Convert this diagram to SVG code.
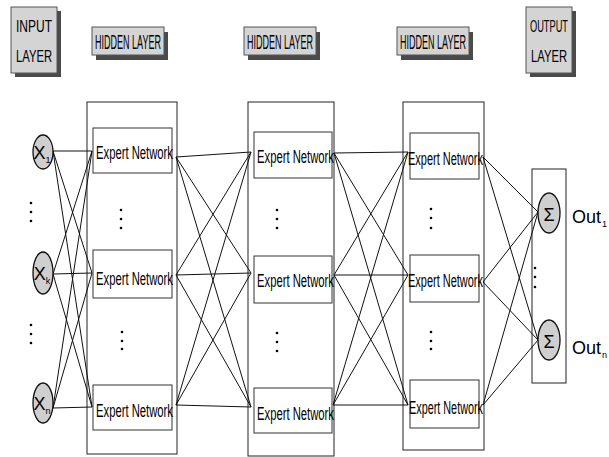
<svg xmlns="http://www.w3.org/2000/svg" width="609" height="457" viewBox="0 0 609 457">
<defs>
<style>
.bg{fill:#ffffff}
.face{fill:#d4d4d4;stroke:#555;stroke-width:1}
.shadow{fill:#4a4a4a}
.hdr{font-family:"Liberation Sans",Arial,sans-serif;font-size:20px;fill:#000;text-anchor:middle}
.hdr2{font-family:"Liberation Sans",Arial,sans-serif;font-size:16px;fill:#000;text-anchor:middle}
.outer{fill:none;stroke:#222;stroke-width:1}
.inner{fill:#fff;stroke:#333;stroke-width:1}
.en{font-family:"Liberation Sans",Arial,sans-serif;font-size:18px;fill:#000}
.oval{fill:#cfcfcf;stroke:#111;stroke-width:1.3}
.sym{font-family:"Liberation Sans",Arial,sans-serif;font-size:18px;fill:#000;text-anchor:middle}
.out{font-family:"Liberation Sans",Arial,sans-serif;font-size:18px;fill:#000}
.dot{fill:#000}
.conn{fill:none;stroke:#111;stroke-width:1}
</style>
</defs>
<rect class="bg" x="0" y="0" width="609" height="457"/>

<g id="header-input">
<rect class="shadow" x="15" y="11" width="46" height="66"/>
<rect class="face" x="11" y="7" width="46" height="66"/>
<text class="hdr2" x="34" y="32" textLength="36" lengthAdjust="spacingAndGlyphs">INPUT</text>
<text class="hdr2" x="34" y="62" textLength="36" lengthAdjust="spacingAndGlyphs">LAYER</text>
</g>
<g id="header-hidden1">
<rect class="shadow" x="96" y="32" width="72" height="28"/>
<rect class="face" x="92" y="27" width="72" height="28"/>
<text class="hdr" x="128" y="49" textLength="66" lengthAdjust="spacingAndGlyphs">HIDDEN LAYER</text>
</g>
<g id="header-hidden2">
<rect class="shadow" x="248" y="32" width="72" height="28"/>
<rect class="face" x="244" y="27" width="72" height="28"/>
<text class="hdr" x="280" y="49" textLength="66" lengthAdjust="spacingAndGlyphs">HIDDEN LAYER</text>
</g>
<g id="header-hidden3">
<rect class="shadow" x="401" y="32" width="72" height="28"/>
<rect class="face" x="397" y="27" width="72" height="28"/>
<text class="hdr" x="433" y="49" textLength="66" lengthAdjust="spacingAndGlyphs">HIDDEN LAYER</text>
</g>
<g id="header-output">
<rect class="shadow" x="530" y="11" width="46" height="66"/>
<rect class="face" x="526" y="7" width="46" height="66"/>
<text class="hdr2" x="549" y="32" textLength="38" lengthAdjust="spacingAndGlyphs">OUTPUT</text>
<text class="hdr2" x="549" y="62" textLength="36" lengthAdjust="spacingAndGlyphs">LAYER</text>
</g>

<g id="layer1">
<rect class="outer" x="87" y="102" width="90" height="352"/>
</g>
<g id="layer2">
<rect class="outer" x="248" y="102" width="86" height="354"/>
</g>
<g id="layer3">
<rect class="outer" x="403" y="102" width="81" height="348"/>
</g>
<g id="output-layer">
<rect class="outer" x="532" y="169" width="34" height="214"/>
</g>

<g id="connectors">
<path class="conn" d="M53 151L92 151M53 151L92 273M53 151L92 407M53 274L92 151M53 274L92 273M53 274L92 407M53 408L92 151M53 408L92 273M53 408L92 407"/>
<path class="conn" d="M176 157L251 152M176 157L251 273M176 157L251 407M176 275L251 152M176 275L251 273M176 275L251 407M176 405L251 152M176 405L251 273M176 405L251 407"/>
<path class="conn" d="M334 153L408 152M334 153L408 275M334 153L408 405M334 275L408 152M334 275L408 275M334 275L408 405M333 405L408 152M333 405L408 275M333 405L408 405"/>
<path class="conn" d="M483 157L538 212M483 157L538 340M483 282L538 212M483 282L538 340M483 405L538 212M483 405L538 340"/>
</g>

<g id="input-x1">
<ellipse class="oval" cx="43" cy="152" rx="10" ry="17"/>
<text class="sym" x="42" y="159">X<tspan font-size="9" dy="4">1</tspan></text>
</g>
<g id="input-xk">
<ellipse class="oval" cx="43" cy="273" rx="10" ry="21"/>
<text class="sym" x="42" y="280">X<tspan font-size="9" dy="4">k</tspan></text>
</g>
<g id="input-xn">
<ellipse class="oval" cx="43" cy="403" rx="10" ry="20"/>
<text class="sym" x="42" y="410">X<tspan font-size="9" dy="4">n</tspan></text>
</g>
<g id="input-dots">
<circle class="dot" cx="31" cy="203" r="1.3"/><circle class="dot" cx="31" cy="212" r="1.3"/><circle class="dot" cx="31" cy="221" r="1.3"/>
<circle class="dot" cx="31" cy="325" r="1.3"/><circle class="dot" cx="31" cy="334" r="1.3"/><circle class="dot" cx="31" cy="343" r="1.3"/>
</g>

<g id="l1-en1"><rect class="inner" x="93" y="128" width="79" height="45"/><text class="en" x="96" y="159" textLength="77" lengthAdjust="spacingAndGlyphs">Expert Network</text></g>
<g id="l1-en2"><rect class="inner" x="93" y="250" width="79" height="48"/><text class="en" x="96" y="285" textLength="77" lengthAdjust="spacingAndGlyphs">Expert Network</text></g>
<g id="l1-en3"><rect class="inner" x="93" y="385" width="79" height="45"/><text class="en" x="96" y="417" textLength="77" lengthAdjust="spacingAndGlyphs">Expert Network</text></g>
<g id="l1-dots">
<circle class="dot" cx="121" cy="210" r="1.3"/><circle class="dot" cx="121" cy="219" r="1.3"/><circle class="dot" cx="121" cy="228" r="1.3"/>
<circle class="dot" cx="122" cy="332" r="1.3"/><circle class="dot" cx="122" cy="341" r="1.3"/><circle class="dot" cx="122" cy="349" r="1.3"/>
</g>

<g id="l2-en1"><rect class="inner" x="254" y="132" width="78" height="46"/><text class="en" x="257" y="163" textLength="77" lengthAdjust="spacingAndGlyphs">Expert Network</text></g>
<g id="l2-en2"><rect class="inner" x="254" y="256" width="78" height="47"/><text class="en" x="257" y="287" textLength="77" lengthAdjust="spacingAndGlyphs">Expert Network</text></g>
<g id="l2-en3"><rect class="inner" x="254" y="388" width="78" height="45"/><text class="en" x="257" y="420" textLength="77" lengthAdjust="spacingAndGlyphs">Expert Network</text></g>
<g id="l2-dots">
<circle class="dot" cx="277" cy="210" r="1.3"/><circle class="dot" cx="277" cy="219" r="1.3"/><circle class="dot" cx="277" cy="228" r="1.3"/>
<circle class="dot" cx="277" cy="333" r="1.3"/><circle class="dot" cx="277" cy="342" r="1.3"/><circle class="dot" cx="277" cy="351" r="1.3"/>
</g>

<g id="l3-en1"><rect class="inner" x="410" y="133" width="69" height="46"/><text class="en" x="408" y="165" textLength="75" lengthAdjust="spacingAndGlyphs">Expert Network</text></g>
<g id="l3-en2"><rect class="inner" x="410" y="255" width="69" height="47"/><text class="en" x="408" y="287" textLength="75" lengthAdjust="spacingAndGlyphs">Expert Network</text></g>
<g id="l3-en3"><rect class="inner" x="410" y="380" width="69" height="48"/><text class="en" x="409" y="414" textLength="74" lengthAdjust="spacingAndGlyphs">Expert Network</text></g>
<g id="l3-dots">
<circle class="dot" cx="431" cy="209" r="1.3"/><circle class="dot" cx="431" cy="218" r="1.3"/><circle class="dot" cx="431" cy="228" r="1.3"/>
<circle class="dot" cx="431" cy="332" r="1.3"/><circle class="dot" cx="431" cy="341" r="1.3"/><circle class="dot" cx="431" cy="349" r="1.3"/>
</g>

<g id="sum1">
<ellipse class="oval" cx="549" cy="213" rx="11" ry="20"/>
<text class="sym" x="549" y="221" font-size="22">Σ</text>
<text class="out" x="572" y="223">Out<tspan font-size="9" dx="1" dy="4">1</tspan></text>
</g>
<g id="sum-n">
<ellipse class="oval" cx="549" cy="340" rx="11" ry="20"/>
<text class="sym" x="549" y="348" font-size="22">Σ</text>
<text class="out" x="572" y="354">Out<tspan font-size="9" dx="1" dy="4">n</tspan></text>
</g>
<g id="output-dots">
<circle class="dot" cx="535" cy="268" r="1.3"/><circle class="dot" cx="535" cy="277" r="1.3"/><circle class="dot" cx="535" cy="287" r="1.3"/>
</g>
</svg>
